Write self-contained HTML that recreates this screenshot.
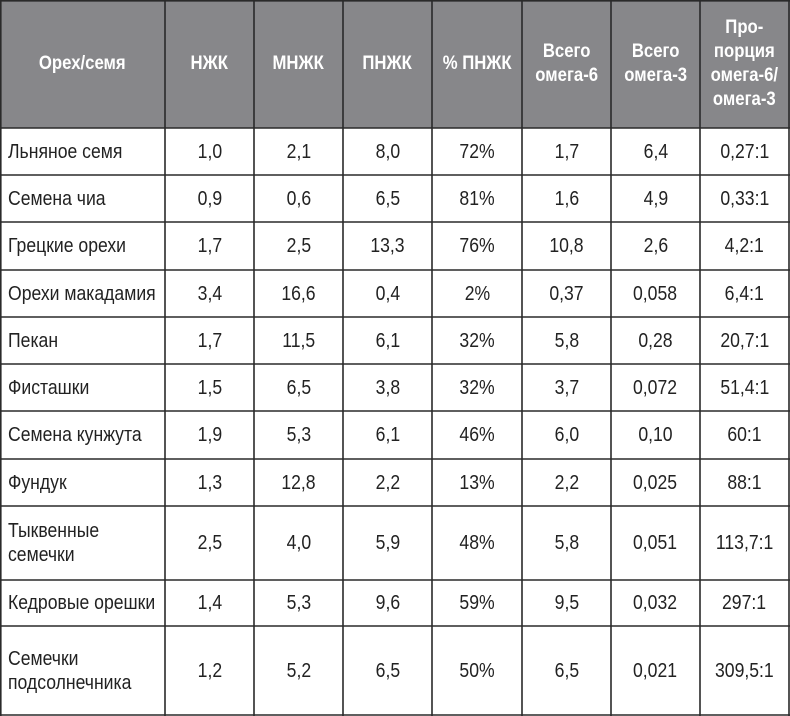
<!DOCTYPE html>
<html><head><meta charset="utf-8"><style>
html,body{margin:0;padding:0;background:#fff;}
#w{position:relative;width:790px;height:716px;overflow:hidden;font-family:"Liberation Sans",sans-serif;}
.c{position:absolute;display:flex;align-items:center;justify-content:center;text-align:center;box-sizing:border-box;color:#222;font-size:20px;}
.c span{display:inline-block;transform:scaleX(.88);line-height:24px;white-space:nowrap;}
.l{justify-content:flex-start;padding-left:8px;text-align:left;}
.l span{transform-origin:left center;}
.h{color:#fff;font-weight:bold;font-size:19px;}
</style></head><body><div id="w">
<div style="position:absolute;left:0;top:0;width:790px;height:128px;background:#87878a"></div>
<svg id="g" width="790" height="716" style="position:absolute;left:0;top:0" stroke="#2a2a2a" stroke-width="1.6"></svg>
<div id="t"></div>
</div>
<script>
var X=[0,165,254,343,432,522,611,700,789];
var Y=[0,128,175,222,270,317,364,411,459,506,580,626,715];
var s='';
X.forEach(function(x){var xx=x==0?0.8:(x==789?789:x);s+='<line x1="'+xx+'" y1="0" x2="'+xx+'" y2="716"/>';});
Y.forEach(function(y){var yy=y==0?0.8:y;s+='<line x1="0" y1="'+yy+'" x2="790" y2="'+yy+'"/>';});
document.getElementById('g').innerHTML=s;
var H=['Орех/семя','НЖК','МНЖК','ПНЖК','% ПНЖК','Всего<br>омега-6','Всего<br>омега-3','Про-<br>порция<br>омега-6/<br>омега-3'];
var R=[
['Льняное семя','1,0','2,1','8,0','72%','1,7','6,4','0,27:1'],
['Семена чиа','0,9','0,6','6,5','81%','1,6','4,9','0,33:1'],
['Грецкие орехи','1,7','2,5','13,3','76%','10,8','2,6','4,2:1'],
['Орехи макадамия','3,4','16,6','0,4','2%','0,37','0,058','6,4:1'],
['Пекан','1,7','11,5','6,1','32%','5,8','0,28','20,7:1'],
['Фисташки','1,5','6,5','3,8','32%','3,7','0,072','51,4:1'],
['Семена кунжута','1,9','5,3','6,1','46%','6,0','0,10','60:1'],
['Фундук','1,3','12,8','2,2','13%','2,2','0,025','88:1'],
['Тыквенные<br>семечки','2,5','4,0','5,9','48%','5,8','0,051','113,7:1'],
['Кедровые орешки','1,4','5,3','9,6','59%','9,5','0,032','297:1'],
['Семечки<br>подсолнечника','1,2','5,2','6,5','50%','6,5','0,021','309,5:1']];
var o='';
function cell(r,c,txt,cls){o+='<div class="c '+cls+'" style="left:'+X[c]+'px;top:'+Y[r]+'px;width:'+(X[c+1]-X[c])+'px;height:'+(Y[r+1]-Y[r])+'px"><span>'+txt+'</span></div>';}
H.forEach(function(t,c){cell(0,c,t,'h');});
R.forEach(function(row,r){row.forEach(function(t,c){cell(r+1,c,t,c==0?'l':'');});});
document.getElementById('t').innerHTML=o;
</script>
</body></html>
